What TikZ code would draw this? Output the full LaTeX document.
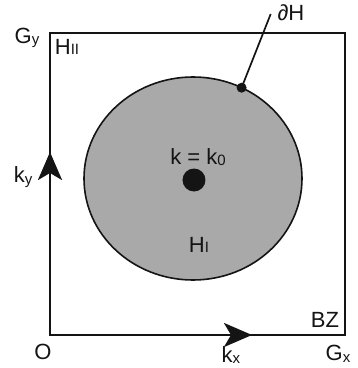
\documentclass[tikz,border=0pt]{standalone}
\usepackage{fontspec}
\setmainfont{Liberation Sans}
\usetikzlibrary{arrows.meta}
\definecolor{fillgray}{RGB}{168,169,168}
\definecolor{ink}{RGB}{20,20,20}
\newcommand\lowsub[1]{\raisebox{-0.15ex}{\fontsize{15}{15}\selectfont #1}}
\tikzset{
  lbl/.style={inner sep=0pt, font=\fontsize{22}{22}\selectfont, text=ink},
  boxline/.style={draw=ink, line width=2.7pt},
  bigtip/.style={-{Stealth[length=28pt,width=24pt,inset=7pt]}, draw=ink, fill=ink, line width=2.7pt},
}
\begin{document}
\begin{tikzpicture}[x=1pt,y=1pt]
\useasboundingbox (0,0) rectangle (358,368);
% Brillouin zone
\coordinate (BL) at (50,33);
\coordinate (TR) at (345,335);
\draw[boxline] (BL) rectangle (TR);
% region H_I
\draw[fill=fillgray, draw=ink, line width=1.6pt] (193,189.5) ellipse [x radius=109, y radius=101.5];
% center point
\node[circle, fill=ink, minimum size=23pt, inner sep=0pt] (k0) at (194,188) {};
% boundary point
\node[circle, fill=ink, minimum size=10pt, inner sep=0pt] (bp) at (241.6,280.3) {};
\coordinate (lt) at (270.7,354);
\draw[draw=ink, line width=1.7pt] (bp.center) -- (lt);
% arrows on edges
\coordinate (ya) at (50,185);
\coordinate (yb) at (50,216);
\draw[bigtip] (ya) -- (yb);
\coordinate (xa) at (222,33);
\coordinate (xb) at (252,33);
\draw[bigtip] (xa) -- (xb);
% labels
\node[lbl] (dH) at (291,355) {∂H};
\node[lbl] (Gy) at (27,330) {G\lowsub{y}};
\node[lbl] (HII) at (67,321) {H\raisebox{0ex}{\fontsize{15}{15}\selectfont II}};
\node[lbl] (ky) at (23,191) {k\lowsub{y}};
\node[lbl] (kk) at (198,211) {k = k\lowsub{0}};
\node[lbl] (HI) at (199,123) {H\raisebox{0ex}{\fontsize{15}{15}\selectfont I}};
\node[lbl] (BZ) at (325,48) {BZ};
\node[lbl] (O) at (43,16) {O};
\node[lbl] (kx) at (231,13) {k\lowsub{x}};
\node[lbl] (Gx) at (338,14) {G\lowsub{x}};
\end{tikzpicture}
\end{document}
